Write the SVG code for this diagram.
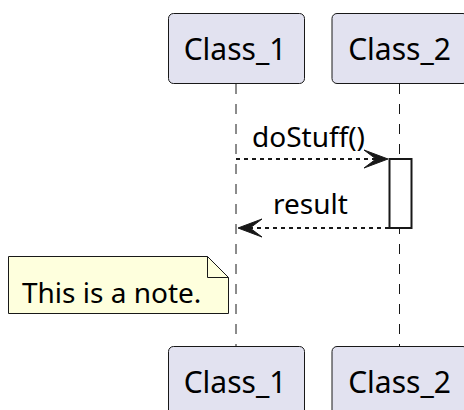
<svg xmlns="http://www.w3.org/2000/svg" width="464" height="410" viewBox="0 0 464 410">
<defs>
<style>
.p rect{fill:#E2E2F0;stroke:#181818;stroke-width:1}
.p text{font-family:"Noto Sans","Open Sans",sans-serif;font-size:30px;fill:#000;text-anchor:middle}
.life{stroke:#181818;stroke-width:1;stroke-dasharray:10,10;fill:none}
.msg{stroke:#181818;stroke-width:2;stroke-dasharray:4,4;fill:none}
.lbl{font-family:"Noto Sans","Open Sans",sans-serif;font-size:28px;fill:#000}
</style>
<marker id="ah" markerWidth="26" markerHeight="20" viewBox="0 0 26 20" refX="24" refY="10" orient="auto" markerUnits="userSpaceOnUse">
<path d="M24,10 L0,1 L12,10 L0,19 Z" fill="#181818" stroke="#181818" stroke-width="1"/>
</marker>
</defs>
<rect width="464" height="410" fill="#FFFFFF"/>
<g id="lifelines">
<line class="life" x1="236" y1="84" x2="236" y2="347"/>
<line class="life" x1="399.5" y1="84" x2="399.5" y2="347"/>
</g>
<g id="participant-class1-top" class="p">
<rect x="168.5" y="13.5" width="136" height="70" rx="5"/>
<text x="235" y="60">Class_1</text>
</g>
<g id="participant-class2-top" class="p">
<rect x="332" y="13.5" width="136" height="70" rx="5"/>
<text x="399.5" y="60">Class_2</text>
</g>
<g id="participant-class1-bottom" class="p">
<rect x="168.5" y="346.5" width="136" height="70" rx="5"/>
<text x="235" y="393">Class_1</text>
</g>
<g id="participant-class2-bottom" class="p">
<rect x="332" y="346.5" width="136" height="70" rx="5"/>
<text x="399.5" y="393">Class_2</text>
</g>
<g id="activation">
<rect x="389.5" y="159" width="22" height="69" fill="#FFFFFF" stroke="#181818" stroke-width="2"/>
</g>
<g id="connectors">
<line class="msg" x1="236" y1="159" x2="388" y2="159" marker-end="url(#ah)"/>
<text class="lbl" x="252" y="147">doStuff()</text>
<line class="msg" x1="389" y1="228" x2="238" y2="228" marker-end="url(#ah)"/>
<text class="lbl" x="273" y="214">result</text>
</g>
<g id="note">
<path d="M8.5,256.5 L207.5,256.5 L228.5,277.5 L228.5,313.5 L8.5,313.5 Z" fill="#FEFFDD" stroke="#181818" stroke-width="1"/>
<path d="M207.5,256.5 L207.5,277.5 L228.5,277.5" fill="none" stroke="#181818" stroke-width="1"/>
<text class="lbl" x="22" y="303">This is a note.</text>
</g>
</svg>
